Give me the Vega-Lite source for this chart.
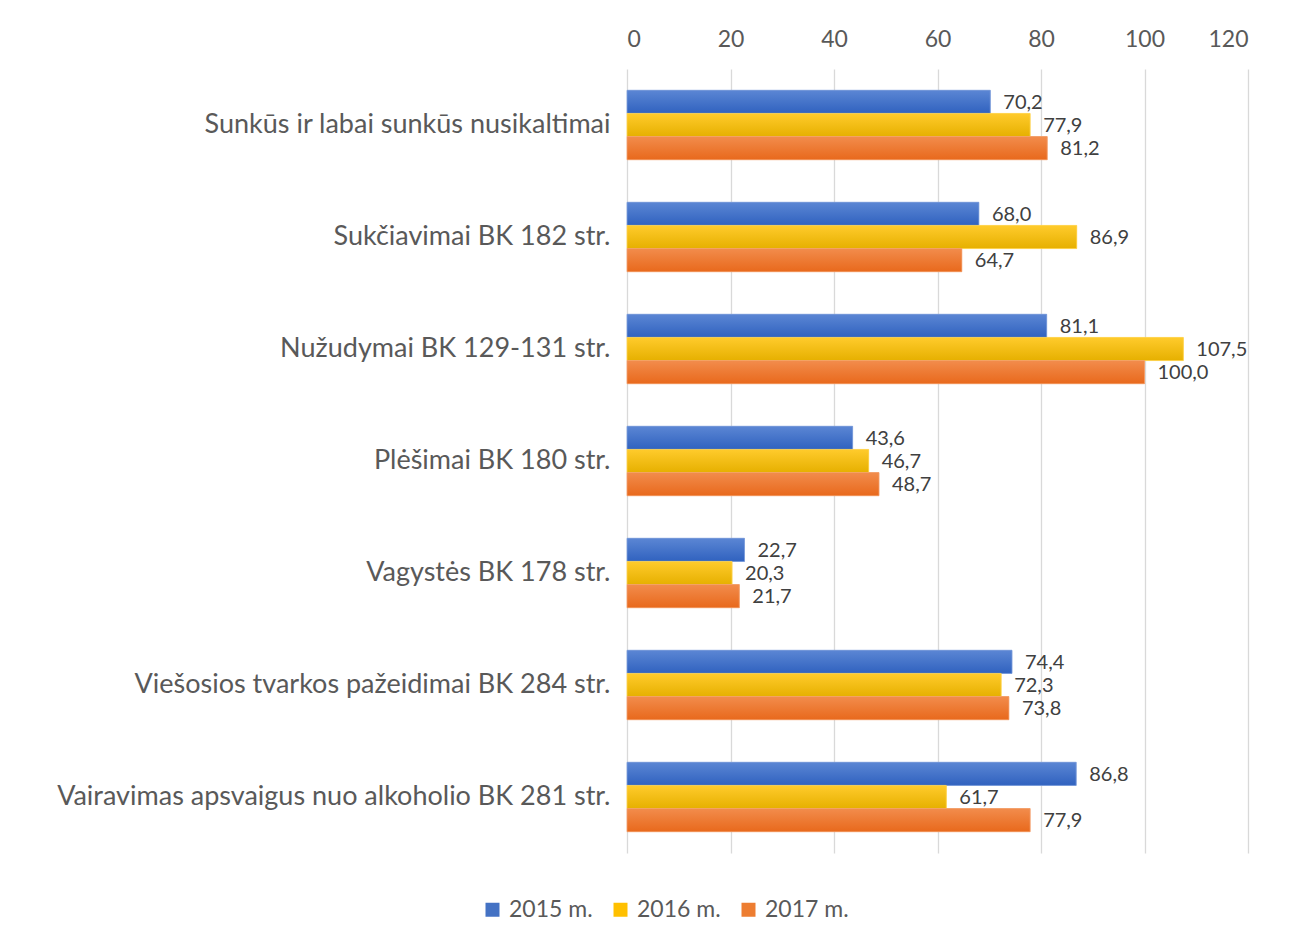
{
  "$schema": "https://vega.github.io/schema/vega-lite/v6.json",
  "width": 621,
  "height": 784,
  "autosize": {"type": "none"},
  "padding": {"left": 627, "top": 69, "right": 68, "bottom": 87},
  "background": "white",
  "config": {
    "font": "Lato",
    "view": {"stroke": null},
    "locale": {"number": {"decimal": ",", "thousands": " ", "grouping": [3], "currency": ["", " €"]}}
  },
  "data": {
    "values": [
      {"cat": "Sunkūs ir labai sunkūs nusikaltimai", "year": "2015 m.", "v": 70.2},
      {"cat": "Sunkūs ir labai sunkūs nusikaltimai", "year": "2016 m.", "v": 77.9},
      {"cat": "Sunkūs ir labai sunkūs nusikaltimai", "year": "2017 m.", "v": 81.2},
      {"cat": "Sukčiavimai BK 182 str.", "year": "2015 m.", "v": 68.0},
      {"cat": "Sukčiavimai BK 182 str.", "year": "2016 m.", "v": 86.9},
      {"cat": "Sukčiavimai BK 182 str.", "year": "2017 m.", "v": 64.7},
      {"cat": "Nužudymai BK 129-131 str.", "year": "2015 m.", "v": 81.1},
      {"cat": "Nužudymai BK 129-131 str.", "year": "2016 m.", "v": 107.5},
      {"cat": "Nužudymai BK 129-131 str.", "year": "2017 m.", "v": 100.0},
      {"cat": "Plėšimai BK 180 str.", "year": "2015 m.", "v": 43.6},
      {"cat": "Plėšimai BK 180 str.", "year": "2016 m.", "v": 46.7},
      {"cat": "Plėšimai BK 180 str.", "year": "2017 m.", "v": 48.7},
      {"cat": "Vagystės BK 178 str.", "year": "2015 m.", "v": 22.7},
      {"cat": "Vagystės BK 178 str.", "year": "2016 m.", "v": 20.3},
      {"cat": "Vagystės BK 178 str.", "year": "2017 m.", "v": 21.7},
      {"cat": "Viešosios tvarkos pažeidimai BK 284 str.", "year": "2015 m.", "v": 74.4},
      {"cat": "Viešosios tvarkos pažeidimai BK 284 str.", "year": "2016 m.", "v": 72.3},
      {"cat": "Viešosios tvarkos pažeidimai BK 284 str.", "year": "2017 m.", "v": 73.8},
      {"cat": "Vairavimas apsvaigus nuo alkoholio BK 281 str.", "year": "2015 m.", "v": 86.8},
      {"cat": "Vairavimas apsvaigus nuo alkoholio BK 281 str.", "year": "2016 m.", "v": 61.7},
      {"cat": "Vairavimas apsvaigus nuo alkoholio BK 281 str.", "year": "2017 m.", "v": 77.9}
    ]
  },
  "encoding": {
    "y": {
      "field": "cat", "type": "nominal", "sort": null,
      "scale": {"paddingInner": 0.38, "paddingOuter": 0.19},
      "axis": {"title": null, "domain": false, "ticks": false, "labelFontSize": 27, "labelColor": "#595959", "labelPadding": 17, "labelLimit": 620}
    },
    "yOffset": {"field": "year", "type": "nominal", "scale": {"domain": ["2015 m.", "2016 m.", "2017 m."], "paddingInner": 0, "paddingOuter": 0}},
    "x": {
      "field": "v", "type": "quantitative",
      "scale": {"domain": [0, 120], "nice": false},
      "axis": {"orient": "top", "title": null, "values": [0, 20, 40, 60, 80, 100, 120], "domain": false, "ticks": false, "gridColor": "#d9d9d9", "gridWidth": 1.3, "labelFontSize": 23, "labelColor": "#595959", "labelPadding": 18, "format": "d"}
    }
  },
  "layer": [
    {
      "mark": {"type": "bar"},
      "encoding": {
        "color": {
          "field": "year", "type": "nominal",
          "scale": {"domain": ["2015 m.", "2016 m.", "2017 m."], "range": ["#4472c4", "#ffc000", "#ed7d31"]},
          "legend": {
            "title": null, "orient": "none", "direction": "horizontal",
            "legendX": -146, "legendY": 829,
            "symbolType": "square", "symbolSize": 196, "symbolStrokeWidth": 0, "symbolOpacity": 1,
            "labelFontSize": 23, "labelColor": "#595959", "columnPadding": 16, "labelOffset": 5
          }
        }
      }
    },
    {
      "transform": [{"filter": "datum.year === '2015 m.'"}],
      "mark": {"type": "bar", "stroke": "#7f9fdc", "strokeWidth": 0.8, "color": {"gradient": "linear", "x1": 0, "y1": 0, "x2": 0, "y2": 1, "stops": [{"offset": 0, "color": "#5b86d4"}, {"offset": 1, "color": "#3062bf"}]}}
    },
    {
      "transform": [{"filter": "datum.year === '2016 m.'"}],
      "mark": {"type": "bar", "stroke": "#ffd34f", "strokeWidth": 0.8, "color": {"gradient": "linear", "x1": 0, "y1": 0, "x2": 0, "y2": 1, "stops": [{"offset": 0, "color": "#ffcb2c"}, {"offset": 1, "color": "#e6b000"}]}}
    },
    {
      "transform": [{"filter": "datum.year === '2017 m.'"}],
      "mark": {"type": "bar", "stroke": "#f4a06c", "strokeWidth": 0.8, "color": {"gradient": "linear", "x1": 0, "y1": 0, "x2": 0, "y2": 1, "stops": [{"offset": 0, "color": "#f28c4c"}, {"offset": 1, "color": "#e8691c"}]}}
    },
    {
      "mark": {"type": "text", "align": "left", "baseline": "middle", "dx": 13, "dy": 1, "fontSize": 20, "color": "#404040"},
      "encoding": {"text": {"field": "v", "type": "quantitative", "format": ".1f"}}
    }
  ]
}
